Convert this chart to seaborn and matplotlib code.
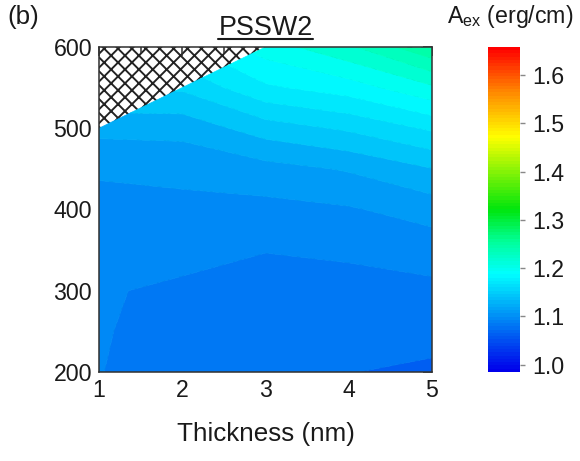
import numpy as np
import matplotlib
matplotlib.use("Agg")
import matplotlib.pyplot as plt
import seaborn as sns
from matplotlib.colors import LinearSegmentedColormap, Normalize
from matplotlib.cm import ScalarMappable
from matplotlib.lines import Line2D

# ---- data: exchange stiffness A_ex (erg/cm) vs thickness and temperature ----
thickness = [1, 2, 3, 4, 5]                                # nm
temperature = [200, 250, 300, 350, 400, 450, 500, 550, 600]  # K

# one column per thickness, rows follow `temperature`; nan = no PSSW2 mode
aex_t1 = [1.0880, 1.0890, 1.0900, 1.0935, 1.0975, 1.1045, 1.1220, np.nan, np.nan]
aex_t2 = [1.0800, 1.0805, 1.0829, 1.0957, 1.0990, 1.1060, 1.1230, 1.1500, np.nan]
aex_t3 = [1.0780, 1.0790, 1.0810, 1.0880, 1.0980, 1.1120, 1.1400, 1.1750, 1.2000]
aex_t4 = [1.0730, 1.0775, 1.0820, 1.0900, 1.1010, 1.1190, 1.1500, 1.1850, 1.2200]
aex_t5 = [1.0690, 1.0790, 1.0840, 1.0940, 1.1090, 1.1320, 1.1650, 1.2050, 1.2500]

cbar_ticks = [1.0, 1.1, 1.2, 1.3, 1.4, 1.5, 1.6]
vmin, vmax = 0.985, 1.658

# ---- style ----
sns.set_theme(style="white")
plt.rcParams["font.family"] = ["Liberation Sans", "DejaVu Sans"]
plt.rcParams["mathtext.fontset"] = "custom"
plt.rcParams["mathtext.rm"] = "Liberation Sans"
plt.rcParams["mathtext.it"] = "Liberation Sans"
plt.rcParams["hatch.color"] = "#222222"
plt.rcParams["hatch.linewidth"] = 1.1
plt.rcParams["axes.unicode_minus"] = False

rainbow = LinearSegmentedColormap.from_list(
    "aex_rainbow",
    [(0.00, (0.00, 0.00, 0.92)),
     (0.30, (0.00, 1.00, 1.00)),
     (0.40, (0.00, 1.00, 0.60)),
     (0.50, (0.00, 0.90, 0.05)),
     (0.725, (1.00, 1.00, 0.00)),
     (0.86, (1.00, 0.55, 0.00)),
     (1.00, (1.00, 0.00, 0.00))],
    N=100,
)

Z = np.column_stack([aex_t1, aex_t2, aex_t3, aex_t4, aex_t5])
Z = np.ma.masked_invalid(Z)
X, Y = np.meshgrid(thickness, temperature)

dpi = 125
fig = plt.figure(figsize=(580 / dpi, 461 / dpi), dpi=dpi)
ax = fig.add_axes([0.1707, 0.1931, 0.5741, 0.7050])
cax = fig.add_axes([0.8414, 0.1931, 0.0552, 0.7050])

# hatched background shows through where the mode does not exist
ax.patch.set_facecolor("white")
ax.patch.set_edgecolor("#222222")
ax.patch.set_linewidth(0)
ax.patch.set_hatch("xxx")

levels = np.arange(0.9825, 1.67, 0.015)
cs = ax.contourf(X, Y, Z, levels=levels, cmap=rainbow,
                 norm=Normalize(vmin=vmin, vmax=vmax), antialiased=True)
# close the hairline seams between neighbouring filled bands
cs.set_edgecolor("face")
cs.set_linewidth(0.4)

ax.set_xlim(1, 5)
ax.set_ylim(200, 600)
ax.set_xticks(thickness)
ax.set_yticks([200, 300, 400, 500, 600])
ax.set_xticks(np.arange(1.5, 5, 1.0), minor=True)
ax.set_yticks(np.arange(250, 600, 100), minor=True)
ax.tick_params(which="both", direction="in", top=True, right=True,
               color="#333333", width=0.9, labelsize=13.3,
               labelcolor="#1a1a1a", pad=4)
ax.tick_params(which="major", length=5)
ax.tick_params(which="minor", length=3.5)
for sp in ax.spines.values():
    sp.set_color("#333333")
    sp.set_linewidth(0.9)
    sp.set_zorder(5)

ax.set_xlabel("Thickness (nm)", fontsize=15, color="#1a1a1a", labelpad=11.5)
title = ax.set_title("PSSW2", fontsize=15.5, color="#1a1a1a", pad=7)

# colorbar
sm = ScalarMappable(norm=Normalize(vmin=vmin, vmax=vmax), cmap=rainbow)
cb = fig.colorbar(sm, cax=cax, ticks=cbar_ticks)
cb.outline.set_visible(False)
cax.tick_params(direction="out", length=3, width=0.8, color="#888888",
                labelsize=13.3, labelcolor="#1a1a1a", pad=4)
cax.set_yticklabels([f"{t:.1f}" for t in cbar_ticks])
fig.text(0.880, 0.965, r"A$_{\mathrm{ex}}$ (erg/cm)", fontsize=13.3,
         ha="center", va="center", color="#1a1a1a")

fig.text(0.012, 0.963, "(b)", fontsize=15, ha="left", va="center",
         color="#1a1a1a")

# underline under the panel title
fig.canvas.draw()
bb = title.get_window_extent(fig.canvas.get_renderer())
inv = fig.transFigure.inverted()
(x0, y0), (x1, _) = inv.transform([(bb.x0, bb.y0), (bb.x1, bb.y1)])
fig.add_artist(Line2D([x0, x1], [y0 + 0.004, y0 + 0.004],
                      transform=fig.transFigure, color="#1a1a1a", lw=1.2))

fig.savefig("out.png", dpi=dpi)
